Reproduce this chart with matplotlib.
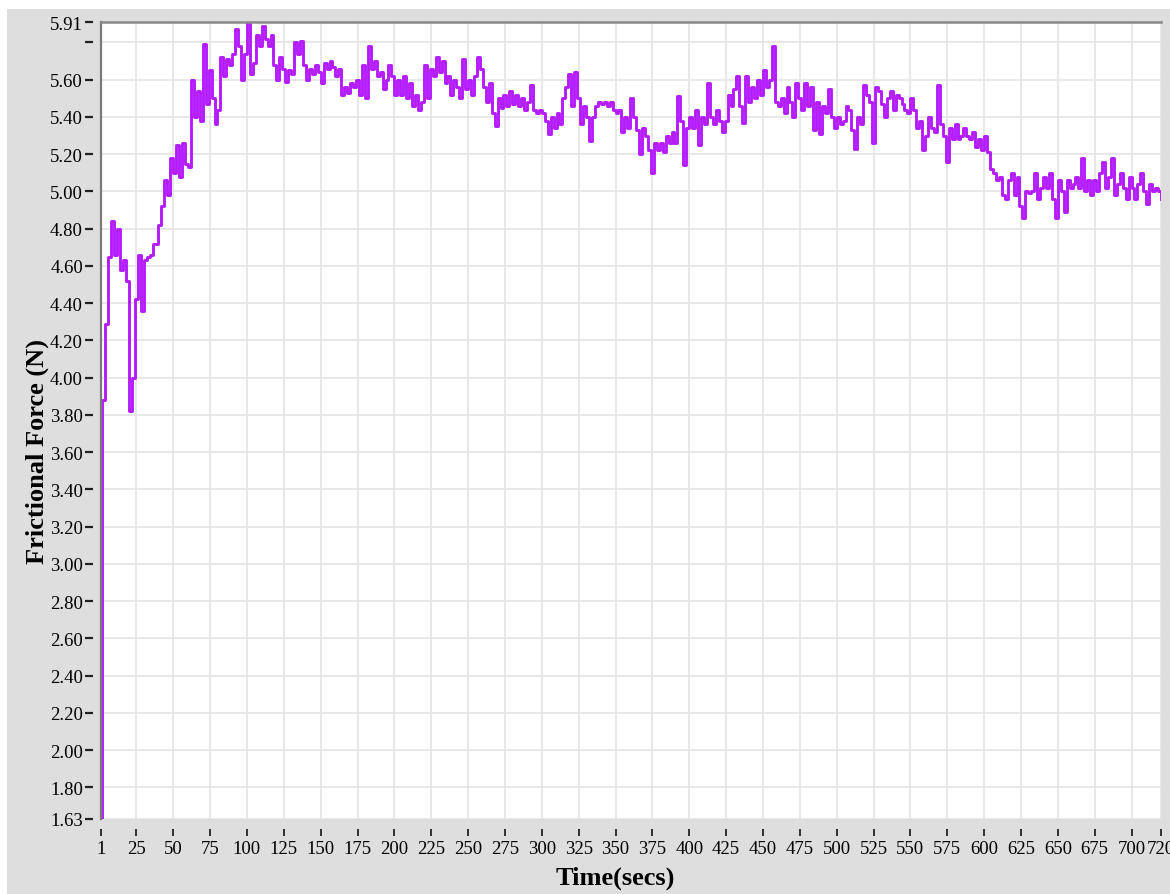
import numpy as np
import matplotlib
matplotlib.use("Agg")
import matplotlib.pyplot as plt
from matplotlib.patches import Rectangle

plt.rcParams['font.family'] = ['Liberation Serif', 'DejaVu Serif']

# friction force sampled every 2 s
force = [
    1.63, 3.88, 4.29, 4.65, 4.84, 4.66, 4.80, 4.58, 4.63, 4.52,
    3.82, 4.00, 4.42, 4.66, 4.36, 4.63, 4.65, 4.66, 4.72, 4.72,
    4.82, 4.92, 5.06, 4.98, 5.18, 5.10, 5.25, 5.08, 5.26, 5.15,
    5.13, 5.60, 5.40, 5.54, 5.38, 5.79, 5.47, 5.65, 5.50, 5.36,
    5.44, 5.72, 5.62, 5.71, 5.68, 5.74, 5.87, 5.78, 5.60, 5.74,
    5.91, 5.63, 5.69, 5.84, 5.78, 5.89, 5.82, 5.78, 5.84, 5.68,
    5.60, 5.72, 5.66, 5.59, 5.65, 5.63, 5.80, 5.74, 5.81, 5.68,
    5.60, 5.66, 5.63, 5.68, 5.64, 5.58, 5.69, 5.66, 5.70, 5.67,
    5.62, 5.66, 5.52, 5.56, 5.53, 5.58, 5.56, 5.60, 5.52, 5.68,
    5.50, 5.78, 5.66, 5.70, 5.62, 5.64, 5.55, 5.60, 5.68, 5.62,
    5.52, 5.60, 5.52, 5.62, 5.50, 5.58, 5.46, 5.52, 5.44, 5.48,
    5.68, 5.50, 5.66, 5.62, 5.72, 5.64, 5.70, 5.58, 5.62, 5.52,
    5.60, 5.56, 5.50, 5.71, 5.55, 5.60, 5.52, 5.62, 5.72, 5.66,
    5.56, 5.48, 5.58, 5.42, 5.35, 5.50, 5.45, 5.52, 5.46, 5.54,
    5.47, 5.52, 5.46, 5.50, 5.44, 5.48, 5.57, 5.44, 5.42, 5.44,
    5.42, 5.38, 5.31, 5.40, 5.34, 5.42, 5.36, 5.50, 5.56, 5.63,
    5.46, 5.64, 5.50, 5.36, 5.46, 5.40, 5.27, 5.40, 5.46, 5.48,
    5.47, 5.48, 5.46, 5.48, 5.44, 5.42, 5.44, 5.32, 5.40, 5.34,
    5.50, 5.40, 5.33, 5.20, 5.34, 5.30, 5.22, 5.10, 5.26, 5.22,
    5.26, 5.21, 5.30, 5.26, 5.32, 5.26, 5.51, 5.38, 5.14, 5.34,
    5.40, 5.34, 5.44, 5.25, 5.40, 5.36, 5.58, 5.40, 5.36, 5.44,
    5.38, 5.32, 5.38, 5.52, 5.46, 5.55, 5.62, 5.46, 5.37, 5.62,
    5.48, 5.56, 5.50, 5.60, 5.52, 5.65, 5.56, 5.60, 5.78, 5.48,
    5.46, 5.50, 5.42, 5.56, 5.48, 5.40, 5.58, 5.50, 5.44, 5.58,
    5.46, 5.56, 5.33, 5.48, 5.31, 5.46, 5.42, 5.55, 5.40, 5.34,
    5.40, 5.36, 5.38, 5.46, 5.44, 5.33, 5.23, 5.40, 5.36, 5.57,
    5.52, 5.48, 5.26, 5.56, 5.54, 5.47, 5.40, 5.50, 5.54, 5.44,
    5.52, 5.50, 5.47, 5.44, 5.42, 5.50, 5.44, 5.34, 5.38, 5.22,
    5.30, 5.40, 5.34, 5.32, 5.57, 5.36, 5.30, 5.16, 5.34, 5.28,
    5.36, 5.28, 5.30, 5.34, 5.30, 5.28, 5.32, 5.24, 5.28, 5.22,
    5.30, 5.21, 5.12, 5.10, 5.06, 5.08, 4.98, 4.96, 5.06, 5.10,
    4.98, 5.08, 4.92, 4.86, 5.00, 4.99, 5.00, 5.10, 4.96, 5.02,
    5.08, 5.02, 5.10, 4.96, 4.86, 5.06, 5.00, 4.89, 5.06, 5.02,
    5.04, 5.08, 5.02, 5.18, 5.00, 5.06, 4.98, 5.06, 5.00, 5.10,
    5.16, 5.02, 5.08, 5.18, 4.98, 5.04, 5.10, 5.02, 4.96, 5.08,
    5.02, 4.96, 5.04, 5.10, 5.00, 4.93, 5.04, 5.00, 5.02, 5.00,
    4.96,
]
secs = np.arange(0, 2 * len(force), 2)

x_ticks = [1] + list(range(25, 701, 25)) + [720]
x_labels = [str(v) for v in x_ticks]
y_ticks = [1.63] + [round(1.8 + 0.2 * i, 2) for i in range(21)] + [5.91]
y_labels = ['%.2f' % v for v in y_ticks]
y_labels[-2] = ''  # 5.80 has no label, it would run into 5.91

fig = plt.figure(figsize=(11.7, 8.95), dpi=100, facecolor='white')
fig.patches.append(Rectangle((7 / 1170, 0), 1, 885 / 895, transform=fig.transFigure,
                             facecolor='#dedede', edgecolor='none', zorder=-10))

ax = fig.add_axes([101 / 1170, 1 - 820 / 895, 1060 / 1170, 797 / 895])
ax.set_facecolor('white')

ax.plot(secs, force, drawstyle='steps-post', color='#b41cff', lw=2.1, zorder=3)

ax.set_xlim(1, 720)
ax.set_ylim(1.63, 5.91)

ax.set_xticks(x_ticks)
ax.set_xticklabels(x_labels)
ax.set_yticks(y_ticks)
ax.set_yticklabels(y_labels)

ax.grid(True, color='#e4e4e4', lw=1.2, zorder=0)

for s in ['top', 'right', 'bottom', 'left']:
    ax.spines[s].set_color('none')
ax.spines['bottom'].set_position(('outward', 7))
ax.spines['left'].set_position(('outward', 6))

# frame on the top and left edge only
ax.plot([0, 0], [0, 1], transform=ax.transAxes, color='#7a7a7a', lw=1.6, clip_on=False, zorder=4)
ax.plot([0, 1], [1, 1], transform=ax.transAxes, color='#8a8a8a', lw=1.8, clip_on=False, zorder=4)

ax.tick_params(axis='x', length=5, width=1.3, color='#222222', pad=3, labelsize=13.5)
ax.tick_params(axis='y', length=6, width=1.6, color='#222222', pad=1, labelsize=13.5)

fig.text(0.0316, 0.495, 'Frictional Force (N)', rotation=90, ha='center', va='center',
         fontsize=19, fontweight='bold')
fig.text(0.5256, 0.0185, 'Time(secs)', ha='center', va='center', fontsize=19, fontweight='bold')

fig.savefig('out.png', dpi=100, facecolor='white')
